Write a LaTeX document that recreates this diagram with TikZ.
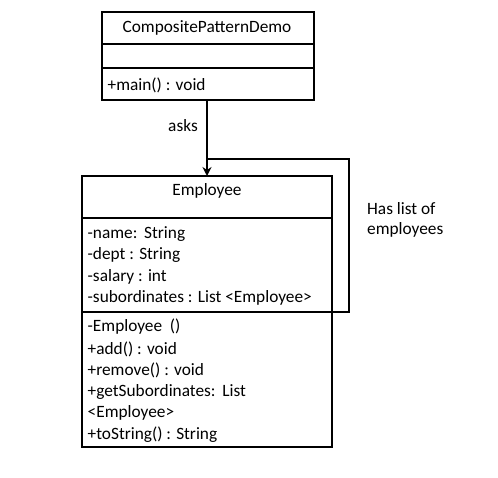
\documentclass[tikz,border=0pt]{standalone}
\usepackage{fontspec}
\setmainfont{Carlito}
\usetikzlibrary{arrows.meta}
\begin{document}
\begin{tikzpicture}[x=1pt,y=-1pt,
  box/.style={draw=black,line width=1.7pt},
  conn/.style={draw=black,line width=1.9pt},
  txt/.style={font=\fontsize{17.3}{20}\selectfont,inner sep=0pt,anchor=west},
  ctxt/.style={font=\fontsize{17.3}{20}\selectfont,inner sep=0pt}]
\useasboundingbox (0,0) rectangle (498,478);
% top class
\draw[box] (102,12) rectangle (314,100);
\draw[box] (102,44) -- (314,44);
\draw[box] (102,68) -- (314,68);
\node[ctxt] (cpd) at (207,28) {CompositePatternDemo};
\node[txt] (main) at (107.5,85) {+main() : void};
\coordinate (cpdb) at (207,100);
% employee class
\draw[box] (82,176) rectangle (332,447);
\draw[box] (82,218) -- (332,218);
\draw[box] (82,312) -- (332,312);
\coordinate (empt) at (207,176);
\coordinate (empr) at (332,312);
\node[ctxt] (emp) at (207,191) {Employee};
\node[txt] (a1) at (87.5,234) {-name:\ \,String};
\node[txt] (a2) at (87.5,255) {-dept : String};
\node[txt] (a3) at (87.5,277) {-salary : int};
\node[txt] (a4) at (87.5,298) {-subordinates : List <Employee>};
\node[txt] (m1) at (87.5,327) {-Employee \ ()};
\node[txt] (m2) at (87.5,349) {+add() : void};
\node[txt] (m3) at (87.5,370) {+remove() : void};
\node[txt] (m4) at (87.5,392) {+getSubordinates:\ \,List};
\node[txt] (m5) at (87.5,413) {<Employee>};
\node[txt] (m6) at (87.5,435) {+toString() : String};
% connectors
\draw[conn,-{Stealth[length=9pt,width=9pt]}] (cpdb) -- (empt);
\node[ctxt] (asks) at (183,126) {asks};
\coordinate (lj) at (207,159);
\coordinate (ltr) at (349,159);
\coordinate (lbr) at (349,312);
\draw[conn] (lj) -- (ltr) -- (lbr) -- (empr);
\node[txt] (h1) at (367,209) {Has list of};
\node[txt] (h2) at (367,230) {employees};
\end{tikzpicture}
\end{document}
